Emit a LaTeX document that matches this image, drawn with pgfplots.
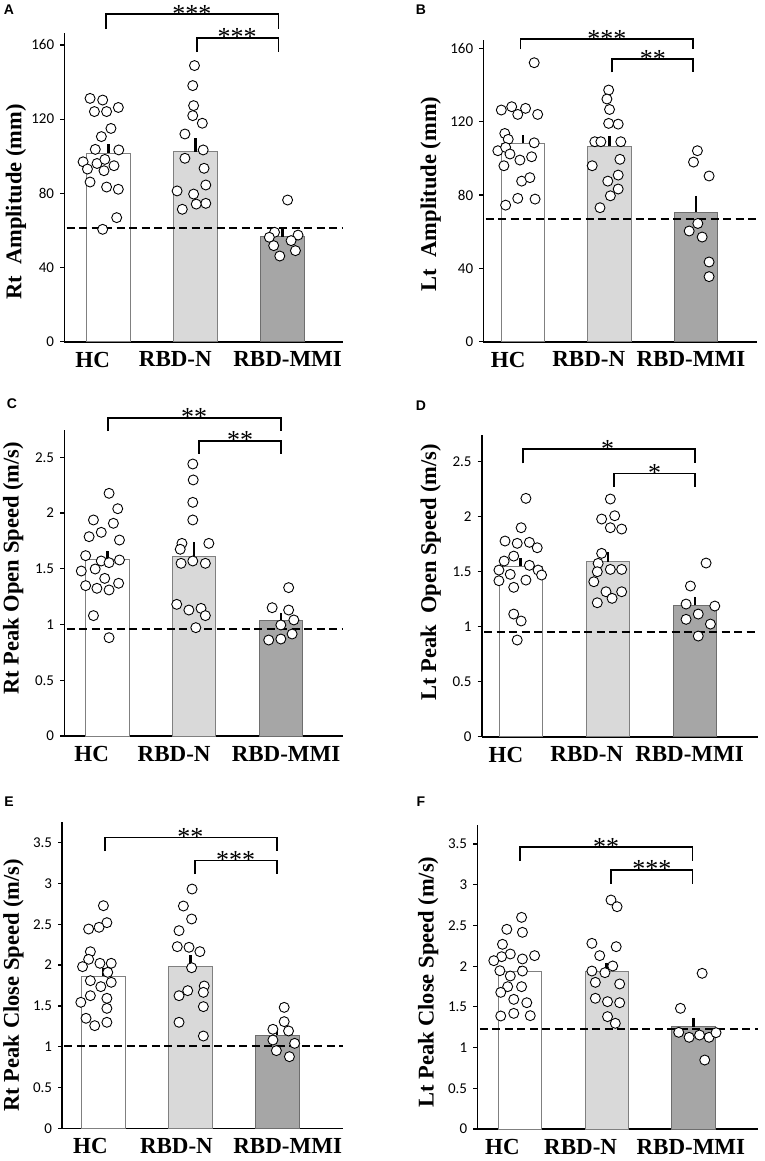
\documentclass[border=0pt]{standalone}
\usepackage{pgfplots}
\pgfplotsset{compat=1.18}
\usepackage{fontspec}
\setmainfont{Liberation Serif}
\newfontfamily\carlito{Carlito}
\newfontfamily\arialf{Liberation Sans}
\definecolor{edgeA}{HTML}{808080}
\definecolor{fillN}{HTML}{D9D9D9}
\definecolor{fillM}{HTML}{A6A6A6}
\definecolor{edgeM}{HTML}{6E6E6E}
\newcommand{\sig}[6]{%
  \draw[line width=1.7pt] (axis cs:#1,#5) -- (axis cs:#1,#4) -- (axis cs:#2,#4) -- (axis cs:#2,#5);
  \node[font=\fontsize{26}{26}\selectfont, anchor=base, inner sep=0pt, yshift=-8pt] at (axis cs:#3,#4) {#6};}
\pgfplotsset{
  panel/.style={
    scale only axis, clip=false,
    axis lines=left, axis line style={-, line width=1.6pt},
    ymin=0, xticklabels={HC,RBD-N,RBD-MMI},
    xtick style={draw=none},
    ytick style={black, line width=1.2pt},
    tick align=outside, major tick length=4pt,
    xticklabel style={font=\bfseries\fontsize{23}{23}\selectfont, inner sep=0pt, yshift=-6pt},
    yticklabel style={font=\carlito\fontsize{15}{15}\selectfont, inner sep=0pt, xshift=-6pt},
    /pgf/number format/assume math mode=true,
    ylabel style={font=\bfseries\fontsize{22.5}{22.5}\selectfont, anchor=center},
  },
  ebar/.style={error bars/y dir=plus, error bars/y explicit,
     error bars/error bar style={line width=2.4pt, black}, error bars/error mark=none},
  barHC/.style={ybar, bar width=43.5pt, bar shift=0pt, fill=white, draw=edgeA, line width=0.8pt, ebar},
  barN/.style={ybar, bar width=43.5pt, bar shift=0pt, fill=fillN, draw=edgeA, line width=0.8pt, ebar},
  barM/.style={ybar, bar width=43.5pt, bar shift=0pt, fill=fillM, draw=edgeM, line width=0.8pt, ebar},
  pts/.style={only marks, mark=*, mark size=5pt, mark options={fill=white, draw=black, line width=0.9pt}},
  refl/.style={black, line width=2pt, dash pattern=on 8pt off 4.5pt},
}
\begin{document}
\begin{tikzpicture}
\useasboundingbox (0,0) rectangle (765pt,-1161pt);
\node[font=\arialf\bfseries\fontsize{14}{14}\selectfont] at (9pt,-10pt) {A};
\node[font=\arialf\bfseries\fontsize{14}{14}\selectfont] at (421pt,-10pt) {B};
\node[font=\arialf\bfseries\fontsize{14}{14}\selectfont] at (12pt,-404pt) {C};
\node[font=\arialf\bfseries\fontsize{14}{14}\selectfont] at (421pt,-406pt) {D};
\node[font=\arialf\bfseries\fontsize{14}{14}\selectfont] at (9pt,-802pt) {E};
\node[font=\arialf\bfseries\fontsize{14}{14}\selectfont] at (421pt,-802pt) {F};

% ---------------- A
\begin{axis}[panel, at={(64.3pt,-341.7pt)}, anchor=south west,
  width=279pt, height=308.4pt, xmin=-0.506, xmax=2.70, ymax=166.3,
  xtick={-0.18,0.77,2.06},
  ytick={0,40,80,120,160},
  ylabel={Rt~~Amplitude (mm)},
  ylabel style={at={(axis description cs:-0.173,0.453)}}]
\addplot[barHC] coordinates {(0,101.6) +- (0,5.0)};
\addplot[barN] coordinates {(1,102.5) +- (0,7.2)};
\addplot[barM] coordinates {(2,56.6) +- (0,4.0)};
\addplot[refl] coordinates {(-0.48,61.5) (2.70,61.5)};
\addplot[pts] coordinates {(-0.21,131.2) (-0.065,130.3) (-0.16,124.1) (-0.02,124.1) (0.115,126.3) (0.03,115.0) (-0.08,110.6) (-0.15,103.7) (0.12,103.4) (-0.29,97.0) (-0.13,96.1) (-0.04,98.3) (0.065,94.9) (-0.24,93.1) (-0.05,92.2) (-0.21,86.1) (-0.02,83.4) (0.115,82.2) (0.096,66.9) (-0.065,60.6)};
\addplot[pts] coordinates {(0.99,148.9) (0.97,138.1) (0.98,127.3) (0.97,121.9) (1.08,117.8) (0.88,112.0) (1.09,103.4) (0.88,98.9) (1.10,93.5) (1.12,84.5) (0.79,81.3) (0.98,79.6) (1.12,74.6) (1.01,74.2) (0.85,71.4)};
\addplot[pts] coordinates {(2.06,76.4) (1.91,59.0) (1.85,56.3) (2.18,57.5) (1.90,51.8) (2.10,54.5) (2.15,49.1) (1.97,46.2)};
\sig{-0.027}{1.954}{0.96}{176.7}{168.6}{***}
\sig{1.015}{1.954}{1.48}{163.8}{156.2}{***}
\end{axis}

% ---------------- B
\begin{axis}[panel, at={(483.3pt,-341.7pt)}, anchor=south west,
  width=273.4pt, height=301.7pt, xmin=-0.458, xmax=2.70, ymax=164.6,
  xtick={-0.17,0.76,1.94},
  ytick={0,40,80,120,160},
  ylabel={Lt~~Amplitude (mm)},
  ylabel style={at={(axis description cs:-0.192,0.49)}}]
\addplot[barHC] coordinates {(0,108.2) +- (0,4.5)};
\addplot[barN] coordinates {(1,106.7) +- (0,5.5)};
\addplot[barM] coordinates {(2,70.7) +- (0,8.9)};
\addplot[refl] coordinates {(-0.43,66.9) (2.70,66.9)};
\addplot[pts] coordinates {(0.13,152.2) (-0.25,126.4) (-0.13,128.2) (-0.06,124.0) (0.03,127.3) (0.17,124.0) (-0.21,113.6) (-0.17,110.4) (0.13,108.5) (-0.29,104.2) (-0.20,106.0) (-0.15,102.4) (0.10,100.9) (-0.035,99.1) (-0.22,96.0) (-0.015,87.6) (0.08,89.5) (-0.20,74.5) (-0.06,78.2) (0.14,77.8)};
\addplot[pts] coordinates {(0.99,137.3) (0.97,132.4) (1.0,126.7) (0.99,119.1) (1.1,118.7) (0.83,109.1) (0.90,109.1) (1.13,109.1) (1.12,99.5) (0.80,96.0) (1.10,90.9) (0.98,87.6) (1.10,83.3) (1.01,79.6) (0.89,73.1)};
\addplot[pts] coordinates {(2.015,104.2) (1.97,98.0) (2.15,90.4) (2.02,64.5) (1.92,60.4) (2.07,57.1) (2.15,43.5) (2.15,35.5)};
\sig{-0.027}{1.965}{0.97}{165.1}{159.5}{***}
\sig{1.027}{1.965}{1.50}{154.2}{147.0}{**}
\end{axis}

% ---------------- C
\begin{axis}[panel, at={(64.3pt,-736pt)}, anchor=south west,
  width=279pt, height=306pt, xmin=-0.496, xmax=2.72, ymax=2.745,
  xtick={-0.18,0.77,2.06},
  ytick={0,0.5,1,1.5,2,2.5},
  ylabel={Rt Peak Open Speed (m/s)},
  ylabel style={at={(axis description cs:-0.183,0.548)}}]
\addplot[barHC] coordinates {(0,1.585) +- (0,0.078)};
\addplot[barN] coordinates {(1,1.615) +- (0,0.122)};
\addplot[barM] coordinates {(2,1.041) +- (0,0.065)};
\addplot[refl] coordinates {(-0.47,0.957) (2.72,0.957)};
\addplot[pts] coordinates {(0.02,2.177) (0.12,2.039) (-0.16,1.938) (0.07,1.908) (-0.07,1.827) (-0.21,1.788) (0.14,1.758) (-0.25,1.618) (-0.07,1.570) (0.02,1.555) (0.14,1.579) (-0.30,1.480) (-0.14,1.498) (-0.03,1.414) (-0.25,1.349) (-0.12,1.325) (0.02,1.310) (0.13,1.370) (-0.16,1.080) (0.02,0.882)};
\addplot[pts] coordinates {(0.985,2.440) (0.99,2.297) (0.985,2.096) (0.985,1.938) (0.86,1.728) (0.84,1.675) (1.17,1.728) (0.85,1.549) (0.985,1.570) (1.13,1.549) (0.80,1.181) (0.94,1.130) (1.08,1.145) (1.13,1.080) (1.02,0.972)};
\addplot[pts] coordinates {(2.09,1.331) (1.90,1.151) (2.09,1.130) (2.15,1.041) (2.0,0.996) (2.13,0.915) (1.86,0.861) (2.0,0.870)};
\sig{0.01}{2.0}{1.0}{2.855}{2.736}{**}
\sig{1.06}{2.0}{1.53}{2.649}{2.530}{**}
\end{axis}

% ---------------- D
\begin{axis}[panel, at={(481.7pt,-736.7pt)}, anchor=south west,
  width=276.6pt, height=301.7pt, xmin=-0.448, xmax=2.73, ymax=2.743,
  xtick={-0.17,0.76,1.94},
  ytick={0,0.5,1,1.5,2,2.5},
  ylabel={Lt Peak~~Open Speed (m/s)},
  ylabel style={at={(axis description cs:-0.184,0.545)}}]
\addplot[barHC] coordinates {(0,1.552) +- (0,0.069)};
\addplot[barN] coordinates {(1,1.591) +- (0,0.091)};
\addplot[barM] coordinates {(2,1.194) +- (0,0.079)};
\addplot[refl] coordinates {(-0.42,0.948) (2.73,0.948)};
\addplot[pts] coordinates {(0.06,2.167) (0.005,1.900) (-0.18,1.779) (-0.04,1.758) (0.10,1.767) (0.19,1.718) (-0.08,1.642) (-0.19,1.597) (-0.25,1.515) (-0.12,1.476) (0.10,1.558) (0.20,1.515) (0.24,1.470) (-0.25,1.418) (0.06,1.424) (-0.08,1.358) (-0.08,1.115) (0.005,1.052) (-0.04,0.879)};
\addplot[pts] coordinates {(1.03,2.161) (0.93,1.979) (1.08,2.009) (1.03,1.900) (1.16,1.888) (0.93,1.667) (0.89,1.576) (0.88,1.500) (1.03,1.521) (1.16,1.521) (0.84,1.409) (0.98,1.318) (1.16,1.318) (1.05,1.258) (0.88,1.218)};
\addplot[pts] coordinates {(2.13,1.579) (1.95,1.370) (1.90,1.206) (2.23,1.188) (2.04,1.115) (1.90,1.067) (2.18,1.024) (2.04,0.915)};
\sig{0.03}{2.0}{1.0}{2.615}{2.485}{*}
\sig{1.07}{2.0}{1.54}{2.394}{2.273}{*}
\end{axis}

% ---------------- E
\begin{axis}[panel, at={(62.3pt,-1128.3pt)}, anchor=south west,
  width=281pt, height=306.6pt, xmin=-0.473, xmax=2.76, ymax=3.757,
  xtick={-0.15,0.84,2.12},
  ytick={0,0.5,1,1.5,2,2.5,3,3.5},
  ylabel={Rt Peak Close Speed (m/s)},
  ylabel style={at={(axis description cs:-0.174,0.467)}}]
\addplot[barHC] coordinates {(0,1.866) +- (0,0.094)};
\addplot[barN] coordinates {(1,1.989) +- (0,0.135)};
\addplot[barM] coordinates {(2,1.144) +- (0,0.089)};
\addplot[refl] coordinates {(-0.45,1.009) (2.76,1.009)};
\addplot[pts] coordinates {(0,2.728) (0.04,2.520) (-0.17,2.442) (-0.05,2.463) (-0.15,2.164) (-0.17,2.071) (-0.24,1.981) (-0.04,2.022) (0.09,2.022) (0.05,1.911) (-0.15,1.809) (-0.03,1.736) (0.09,1.789) (-0.15,1.625) (0.04,1.593) (-0.26,1.544) (0.04,1.470) (-0.20,1.348) (0.04,1.299) (-0.10,1.258)};
\addplot[pts] coordinates {(1.02,2.932) (0.92,2.724) (1.015,2.565) (0.87,2.422) (0.85,2.226) (0.985,2.218) (1.11,2.165) (1.015,1.968) (1.16,1.744) (1.15,1.666) (0.97,1.687) (0.87,1.625) (1.15,1.491) (0.87,1.299) (1.15,1.131)};
\addplot[pts] coordinates {(2.08,1.482) (2.08,1.307) (1.95,1.213) (2.13,1.193) (1.95,1.082) (2.20,1.041) (1.99,0.952) (2.14,0.878)};
\sig{0.02}{2.0}{1.0}{3.562}{3.398}{**}
\sig{1.05}{2.0}{1.52}{3.280}{3.116}{***}
\end{axis}

% ---------------- F
\begin{axis}[panel, at={(477.3pt,-1129pt)}, anchor=south west,
  width=280.4pt, height=304pt, xmin=-0.49, xmax=2.74, ymax=3.733,
  xtick={-0.20,0.70,1.97},
  ytick={0,0.5,1,1.5,2,2.5,3,3.5},
  ylabel={Lt Peak Close Speed (m/s)},
  ylabel style={at={(axis description cs:-0.175,0.483)}}]
\addplot[barHC] coordinates {(0,1.932) +- (0,0.070)};
\addplot[barN] coordinates {(1,1.940) +- (0,0.103)};
\addplot[barM] coordinates {(2,1.257) +- (0,0.110)};
\addplot[refl] coordinates {(-0.46,1.224) (2.74,1.224)};
\addplot[pts] coordinates {(0.02,2.599) (-0.15,2.452) (0.03,2.415) (-0.20,2.268) (-0.11,2.149) (-0.21,2.116) (-0.30,2.067) (0.03,2.088) (0.17,2.129) (-0.23,1.944) (0.03,1.940) (-0.11,1.879) (-0.14,1.748) (0.02,1.748) (-0.22,1.678) (-0.07,1.592) (0.08,1.551) (-0.22,1.388) (-0.07,1.420) (0.12,1.392)};
\addplot[pts] coordinates {(1.05,2.812) (1.12,2.730) (0.83,2.280) (1.11,2.239) (0.92,2.129) (1.07,2.002) (0.83,1.940) (0.98,1.920) (0.87,1.801) (1.15,1.781) (0.87,1.605) (1.01,1.564) (1.15,1.551) (1.01,1.380) (1.10,1.298)};
\addplot[pts] coordinates {(2.10,1.912) (1.85,1.482) (1.83,1.187) (1.95,1.126) (2.07,1.154) (2.18,1.126) (2.26,1.183) (2.13,0.847)};
\sig{0.0}{1.99}{0.995}{3.459}{3.295}{**}
\sig{1.05}{1.99}{1.52}{3.181}{3.009}{***}
\end{axis}
\end{tikzpicture}
\end{document}
